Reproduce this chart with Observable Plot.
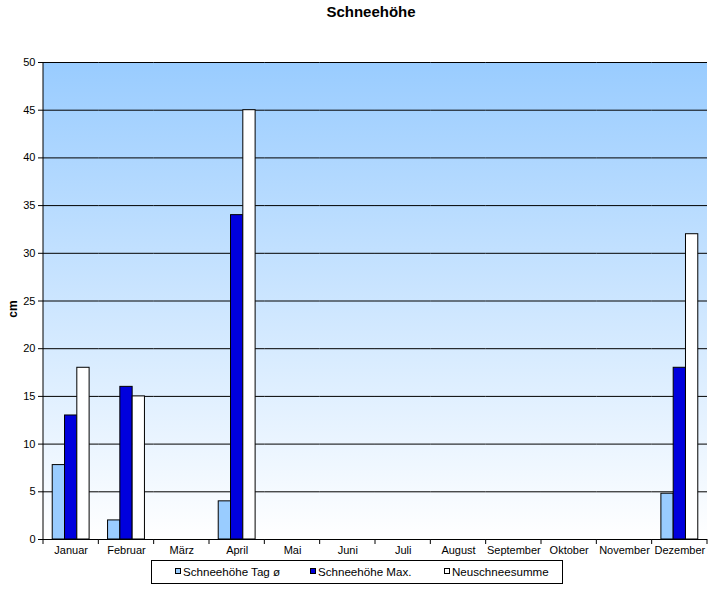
<!DOCTYPE html>
<html><head><meta charset="utf-8">
<script src="https://cdn.jsdelivr.net/npm/d3@7"></script>
<script src="https://cdn.jsdelivr.net/npm/@observablehq/plot@0.6"></script>
<style>
body{margin:0;background:#fff;font-family:"Liberation Sans",Arial,sans-serif;color:#000;}
#wrap{position:relative;width:712px;height:589px;overflow:hidden;}
#chart{position:absolute;left:0;top:0;}
#title{position:absolute;top:3px;left:15px;width:712px;text-align:center;font-weight:bold;font-size:15px;}
#ylab{position:absolute;left:12.5px;top:309px;transform:translate(-50%,-50%) rotate(-90deg);font-weight:bold;font-size:12px;}
#legend{position:absolute;left:151px;top:560px;width:410px;height:22px;border:1px solid #000;background:#fff;font-size:11.6px;}
.li{position:absolute;top:4px;white-space:nowrap;line-height:14px;}
.sw{position:absolute;top:7px;width:4px;height:4px;border:1px solid #000;}
</style></head>
<body>
<div id="wrap">
<div id="chart"></div>
<div id="title">Schneehöhe</div>
<div id="ylab">cm</div>
<div id="legend"></div>
</div>
<script>
const months = ["Januar","Februar","März","April","Mai","Juni","Juli","August","September","Oktober","November","Dezember"];
const tagMittel = [7.8, 2, 0, 4, 0, 0, 0, 0, 0, 0, 0, 4.8];
const maxHoehe  = [13, 16, 0, 34, 0, 0, 0, 0, 0, 0, 0, 18];
const neuschnee = [18, 15, 0, 45, 0, 0, 0, 0, 0, 0, 0, 32];
const seriesNames = ["Schneehöhe Tag ø","Schneehöhe Max.","Neuschneesumme"];
const seriesColors = ["#99CCFF","#0000DD","#FFFFFF"];
const yTicks = [0,5,10,15,20,25,30,35,40,45,50];

const seriesValues = [tagMittel, maxHoehe, neuschnee];
const table = [];
months.forEach((m,i)=>seriesNames.forEach((s,k)=>table.push({month:m, series:s, value:seriesValues[k][i]})));

const chart = Plot.plot({
  width:712, height:560,
  marginTop:62, marginBottom:21, marginLeft:43, marginRight:5,
  style:{fontFamily:'"Liberation Sans",Arial,sans-serif', fontSize:"11px", color:"#000", background:"transparent", overflow:"visible"},
  fx:{domain:months, padding:0, round:false, label:null, axis:"bottom", tickSize:0, tickPadding:7},
  x:{domain:seriesNames, paddingInner:0, paddingOuter:0.75, round:false, axis:null},
  y:{domain:[0,50], ticks:yTicks, tickSize:5, tickPadding:3, label:null},
  color:{domain:seriesNames, range:seriesColors},
  marks:[
    Plot.ruleY(yTicks, {stroke:"#000", strokeWidth:1, strokeOpacity:1}),
    Plot.barY(table, {filter:d=>d.value>0, fx:"month", x:"series", y:"value", fill:"series", stroke:"#000", strokeWidth:1})
  ]
});
document.getElementById("chart").appendChild(chart);

// plot-area background and axis decorations, placed with the plot's own scales
const svg = d3.select(chart);
const fxs = chart.scale("fx"), ys = chart.scale("y");
const y0 = ys.apply(0), yTop = ys.apply(50);
const edges = months.map(m=>fxs.apply(m));
edges.push(fxs.apply(months[months.length-1]) + fxs.bandwidth);
const defs = svg.insert("defs", ":first-child");
const grad = defs.append("linearGradient").attr("id","bgGrad").attr("x1",0).attr("y1",0).attr("x2",0).attr("y2",1);
grad.append("stop").attr("offset",0).attr("stop-color","#99CCFF");
grad.append("stop").attr("offset",1).attr("stop-color","#FFFFFF");
svg.insert("rect", "defs + *")
  .attr("x", edges[0]).attr("y", yTop)
  .attr("width", edges[edges.length-1]-edges[0]).attr("height", y0-yTop)
  .attr("fill","url(#bgGrad)");
const g = svg.append("g").attr("stroke","#000").attr("stroke-width",1);
g.append("line").attr("x1",edges[0]).attr("x2",edges[0]).attr("y1",yTop).attr("y2",y0);
edges.forEach(x=>g.append("line").attr("x1",x).attr("x2",x).attr("y1",y0).attr("y2",y0+5));

// legend
const swX = [23, 158, 292], txX = [31, 166, 300];
const lg = document.getElementById("legend");
seriesNames.forEach((s,k)=>{
  const sw = document.createElement("div");
  sw.className="sw"; sw.style.left=swX[k]+"px"; sw.style.background=seriesColors[k];
  lg.appendChild(sw);
  const d = document.createElement("div");
  d.className="li"; d.style.left=txX[k]+"px"; d.textContent=s;
  lg.appendChild(d);
});
</script>
</body></html>
